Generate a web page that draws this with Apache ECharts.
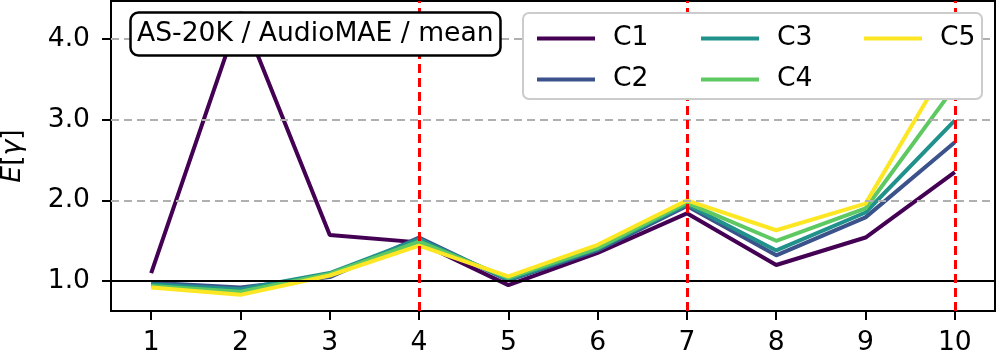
<!DOCTYPE html>
<html>
<head>
    <meta charset="UTF-8">
    <script src="https://cdn.jsdelivr.net/npm/echarts@6/dist/echarts.min.js"></script>
    <style>
        html, body { margin: 0; padding: 0; background: #ffffff; }
        #main { width: 997px; height: 361px; }
    </style>
</head>
<body>
<div id="main"></div>
<script type="text/javascript">
    // layer index on x, E[gamma] per condition
    var layers = [1, 2, 3, 4, 5, 6, 7, 8, 9, 10];
    var c1 = [1.10, 4.33, 1.57, 1.48, 0.95, 1.35, 1.84, 1.20, 1.54, 2.35];
    var c2 = [0.98, 0.92, 1.05, 1.54, 1.01, 1.38, 1.93, 1.32, 1.79, 2.72];
    var c3 = [0.96, 0.90, 1.10, 1.52, 1.02, 1.40, 1.95, 1.38, 1.85, 2.99];
    var c4 = [0.94, 0.87, 1.09, 1.49, 1.04, 1.41, 1.97, 1.50, 1.90, 3.41];
    var c5 = [0.92, 0.83, 1.07, 1.44, 1.06, 1.45, 2.00, 1.63, 1.96, 3.83];
    var yTicks = [1, 2, 3, 4];
    var gridLevels = [2, 3, 4];
    var refLevel = 1.0;
    var redLayers = [4, 7, 10];

    var names = ['C1', 'C2', 'C3', 'C4', 'C5'];
    var values = [c1, c2, c3, c4, c5];
    var colors = ['#440154', '#3b528b', '#21918c', '#5ec962', '#fde725'];
    var font = 'DejaVu Sans';
    var fs = 26.6;

    var myChart = echarts.init(document.getElementById('main'));

    var series = [];
    // dashed grid lines underneath
    series.push({
        type: 'line',
        data: [],
        silent: true,
        z: 1,
        markLine: {
            silent: true,
            symbol: 'none',
            label: {show: false},
            animation: false,
            lineStyle: {color: '#b0b0b0', width: 2, type: [8, 5]},
            data: gridLevels.map(function (v) { return {yAxis: v}; })
        }
    });
    for (var i = 0; i < names.length; i++) {
        series.push({
            name: names[i],
            type: 'line',
            z: 2,
            symbol: 'none',
            animation: false,
            data: layers.map(function (x, j) { return [x, values[i][j]]; }),
            itemStyle: {color: colors[i]},
            lineStyle: {color: colors[i], width: 4}
        });
    }
    // reference line at 1 and red dashed verticals
    series.push({
        type: 'line',
        data: [],
        silent: true,
        z: 3,
        markLine: {
            silent: true,
            symbol: 'none',
            label: {show: false},
            animation: false,
            data: [{yAxis: refLevel, lineStyle: {color: '#000', width: 2, type: 'solid'}}].concat(
                redLayers.map(function (x) {
                    return {xAxis: x, lineStyle: {color: '#ff0000', width: 3, type: [9, 5]}};
                })
            )
        }
    });

    function legendPart(items, left) {
        return {
            orient: 'vertical',
            left: left,
            top: 20,
            z: 8,
            data: items,
            icon: 'rect',
            itemWidth: 58,
            itemHeight: 4,
            itemGap: 14,
            selectedMode: false,
            textStyle: {fontFamily: font, fontSize: fs, lineHeight: 26, color: '#000', padding: [0, 0, 0, 13]}
        };
    }

    var option = {
        animation: false,
        grid: {
            left: 111, right: 2, top: 1, bottom: 50,
            outerBoundsMode: 'none',
            show: true, borderColor: '#000', borderWidth: 2
        },
        title: {
            text: 'AS-20K / AudioMAE / mean',
            left: 130,
            top: 13,
            z: 10,
            padding: [8, 7],
            backgroundColor: '#fff',
            borderColor: '#000',
            borderWidth: 2.5,
            borderRadius: 8,
            textStyle: {fontFamily: font, fontSize: fs, lineHeight: 26, fontWeight: 'normal', color: '#000'}
        },
        legend: [
            legendPart(['C1', 'C2'], 532),
            legendPart(['C3', 'C4'], 696),
            legendPart(['C5'], 859)
        ],
        graphic: [{
            type: 'rect',
            z: 7,
            shape: {x: 523, y: 13, width: 459, height: 86, r: 6},
            style: {fill: '#fff', stroke: '#cccccc', lineWidth: 2}
        }],
        xAxis: {
            type: 'value',
            min: 0.55,
            max: 10.45,
            axisLine: {lineStyle: {color: '#000', width: 2}},
            axisTick: {show: true, customValues: layers, length: 9, lineStyle: {color: '#000', width: 2}},
            axisLabel: {customValues: layers, margin: 19, fontFamily: font, fontSize: fs, color: '#000'},
            splitLine: {show: false}
        },
        yAxis: {
            type: 'value',
            min: 0.63,
            max: 4.47,
            name: '{i|E}[{i|γ}]',
            nameLocation: 'middle',
            nameGap: 84,
            nameTextStyle: {
                fontFamily: font, fontSize: fs, color: '#000',
                rich: {i: {fontFamily: font, fontSize: fs, fontStyle: 'italic', color: '#000'}}
            },
            axisLine: {show: true, lineStyle: {color: '#000', width: 2}},
            axisTick: {show: true, customValues: yTicks, length: 9, lineStyle: {color: '#000', width: 2}},
            axisLabel: {
                customValues: yTicks, margin: 21, fontFamily: font, fontSize: fs, color: '#000',
                formatter: function (v) { return v.toFixed(1); }
            },
            splitLine: {show: false}
        },
        series: series
    };

    myChart.setOption(option);
</script>
</body>
</html>
